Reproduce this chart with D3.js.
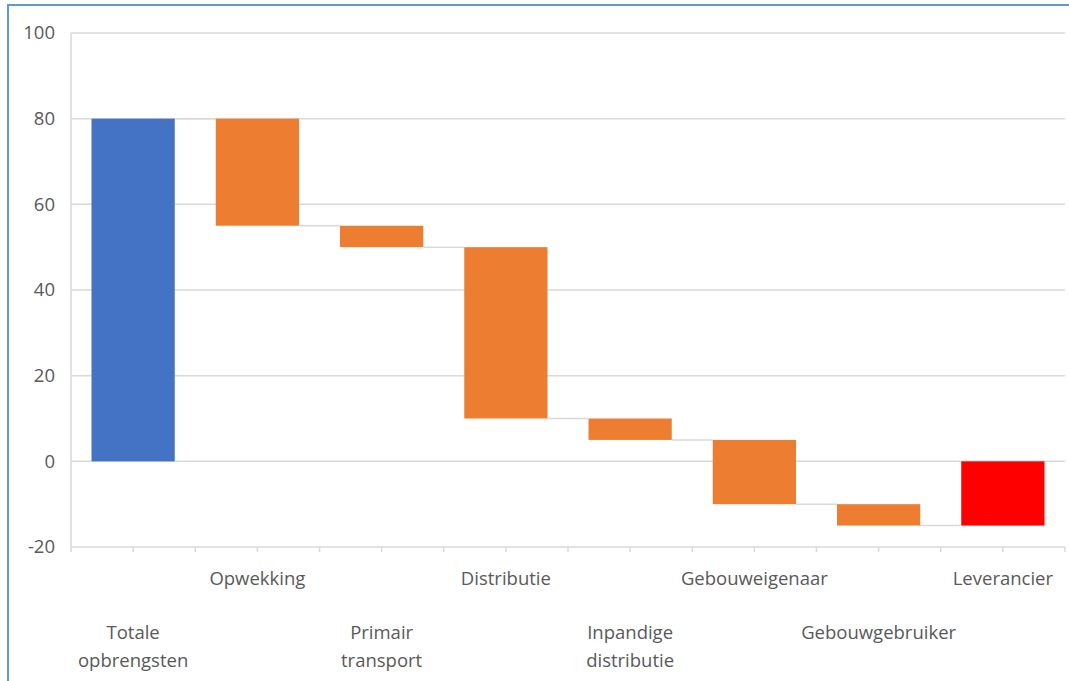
<!DOCTYPE html>
<html>
<head>
<meta charset="utf-8">
<script src="https://cdn.jsdelivr.net/npm/d3@7"></script>
<style>
  body { margin: 0; background: #fff; }
  svg { display: block; }
</style>
</head>
<body>
<div id="chart"></div>
<script>
// waterfall data
const categories = ["Totale opbrengsten", "Opwekking", "Primair transport", "Distributie",
  "Inpandige distributie", "Gebouweigenaar", "Gebouwgebruiker", "Leverancier"];
const barStart = [0, 80, 55, 50, 10, 5, -10, 0];
const barEnd = [80, 55, 50, 10, 5, -10, -15, -15];
const barType = ["total", "step", "step", "step", "step", "step", "step", "result"];
const yTicks = [-20, 0, 20, 40, 60, 80, 100];

const width = 1069, height = 681;
const margin = { top: 33, right: 4, bottom: 134, left: 71 };
const FONT = "'Open Sans', sans-serif";
const FONT_SIZE = 18.5;

const svg = d3.select("#chart").append("svg")
  .attr("width", width).attr("height", height);

// outer frame (only top and left visible in the reference)
svg.append("rect")
  .attr("x", 8).attr("y", 5)
  .attr("width", width + 20).attr("height", height + 20)
  .attr("fill", "none").attr("stroke", "#5B9BD5").attr("stroke-width", 2);

const x = d3.scaleBand().domain(categories)
  .range([margin.left, width - margin.right]).paddingInner(0.33).paddingOuter(0.165);
const y = d3.scaleLinear().domain([-20, 100]).range([height - margin.bottom, margin.top]);

const GRID = "#d9d9d9";
const colors = { total: "#4472C4", step: "#ED7D31", result: "#FF0000" };

// gridlines
svg.append("g").selectAll("line").data(yTicks).join("line")
  .attr("x1", margin.left).attr("x2", width - margin.right)
  .attr("y1", d => y(d)).attr("y2", d => y(d))
  .attr("stroke", GRID).attr("stroke-width", 1.5);

// left axis line
svg.append("line")
  .attr("x1", margin.left).attr("x2", margin.left)
  .attr("y1", y(100)).attr("y2", y(-20))
  .attr("stroke", GRID).attr("stroke-width", 1.5);

// y tick labels
svg.append("g").selectAll("text").data(yTicks).join("text")
  .attr("x", 55).attr("y", d => y(d))
  .attr("dy", "0.35em").attr("text-anchor", "end")
  .attr("font-family", FONT).attr("font-size", FONT_SIZE)
  .attr("fill", "#595959").text(d => d);

// x ticks: at band edges and centres
const step = x.step();
const xTickPos = d3.range(0, categories.length * 2 + 1).map(i => margin.left + i * step / 2);
svg.append("g").selectAll("line").data(xTickPos).join("line")
  .attr("x1", d => d).attr("x2", d => d)
  .attr("y1", y(-20)).attr("y2", y(-20) + 5)
  .attr("stroke", GRID).attr("stroke-width", 1.5);

// connectors
svg.append("g").selectAll("line").data(d3.range(categories.length - 1)).join("line")
  .attr("x1", i => x(categories[i]) + x.bandwidth())
  .attr("x2", i => x(categories[i + 1]))
  .attr("y1", i => y(barEnd[i])).attr("y2", i => y(barEnd[i]))
  .attr("stroke", GRID).attr("stroke-width", 1.5);

// bars
svg.append("g").selectAll("rect").data(categories).join("rect")
  .attr("x", d => x(d))
  .attr("width", x.bandwidth())
  .attr("y", (d, i) => y(Math.max(barStart[i], barEnd[i])))
  .attr("height", (d, i) => Math.abs(y(barStart[i]) - y(barEnd[i])))
  .attr("fill", (d, i) => colors[barType[i]]);

// staggered category labels
const labels = svg.append("g").attr("font-family", FONT)
  .attr("font-size", FONT_SIZE).attr("fill", "#595959").attr("text-anchor", "middle");
categories.forEach((c, i) => {
  const cx = x(c) + x.bandwidth() / 2;
  const rowY = i % 2 === 1 ? 585 : 639;
  const words = i % 2 === 0 && c.includes(" ") ? c.split(" ") : [c];
  const t = labels.append("text").attr("x", cx).attr("y", rowY);
  words.forEach((w, k) => {
    t.append("tspan").attr("x", cx).attr("dy", k === 0 ? 0 : 28).text(w);
  });
});
</script>
</body>
</html>
